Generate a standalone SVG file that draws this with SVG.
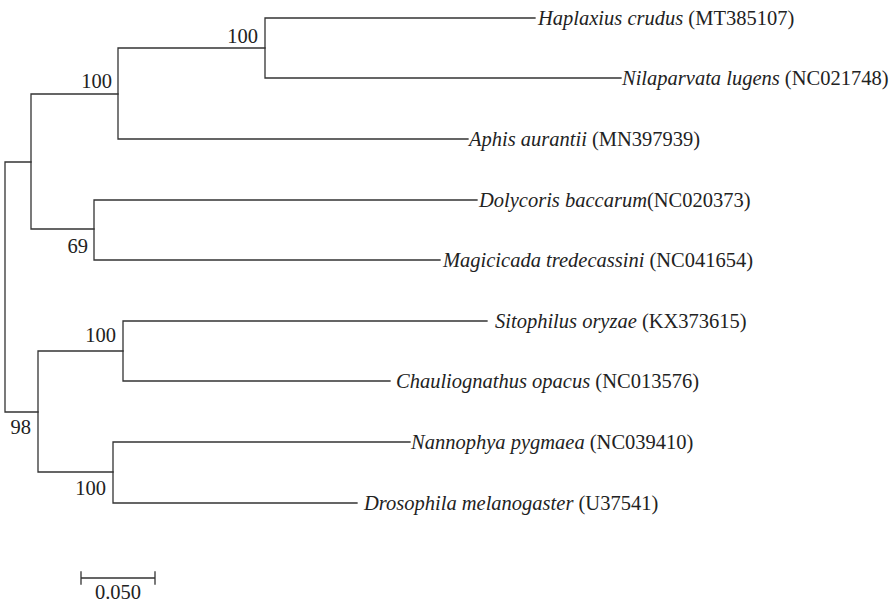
<svg xmlns="http://www.w3.org/2000/svg" width="896" height="608" viewBox="0 0 896 608">
<style>
.br{fill:none;stroke:#333;stroke-width:1.3;stroke-linecap:square}
text{font-family:"Liberation Serif","Times New Roman",serif;font-size:20.5px;fill:#222}
.sp{font-style:italic}
.bs{text-anchor:end}
</style>
<rect width="896" height="608" fill="#fff"/>
<g id="connectors" class="br">
<path d="M5,162V412M5,162H31M5,412H38"/>
<path d="M31,94V229M31,94H118M31,229H94"/>
<path d="M118,48V139M118,48H265M118,139H468"/>
<path d="M265,18V78M265,18H535M265,78H621"/>
<path d="M94,200V260M94,200H477M94,260H440"/>
<path d="M38,351V472M38,351H123M38,472H113"/>
<path d="M123,321V381M123,321H487M123,381H390"/>
<path d="M113,442V503M113,442H410M113,503H357"/>
</g>
<g id="bootstrap">
<text class="bs" x="258" y="43">100</text>
<text class="bs" x="112" y="88">100</text>
<text class="bs" x="88" y="253">69</text>
<text class="bs" x="116" y="342">100</text>
<text class="bs" x="31" y="434">98</text>
<text class="bs" x="106" y="495">100</text>
</g>
<g id="leaf-haplaxius"><text x="538" y="25"><tspan class="sp">Haplaxius crudus</tspan> (MT385107)</text></g>
<g id="leaf-nilaparvata"><text x="622" y="85"><tspan class="sp">Nilaparvata lugens</tspan> (NC021748)</text></g>
<g id="leaf-aphis"><text x="469" y="146"><tspan class="sp">Aphis aurantii</tspan> (MN397939)</text></g>
<g id="leaf-dolycoris"><text x="479" y="207"><tspan class="sp">Dolycoris baccarum</tspan>(NC020373)</text></g>
<g id="leaf-magicicada"><text x="443" y="267"><tspan class="sp">Magicicada tredecassini</tspan> (NC041654)</text></g>
<g id="leaf-sitophilus"><text x="495" y="328"><tspan class="sp">Sitophilus oryzae</tspan> (KX373615)</text></g>
<g id="leaf-chauliognathus"><text x="396" y="388"><tspan class="sp">Chauliognathus opacus</tspan> (NC013576)</text></g>
<g id="leaf-nannophya"><text x="411" y="449"><tspan class="sp">Nannophya pygmaea</tspan> (NC039410)</text></g>
<g id="leaf-drosophila"><text x="364" y="510"><tspan class="sp">Drosophila melanogaster</tspan> (U37541)</text></g>
<g id="scale">
<path class="br" d="M81,578H155M81,572V584M155,572V584"/>
<text x="118" y="599" text-anchor="middle">0.050</text>
</g>
</svg>
